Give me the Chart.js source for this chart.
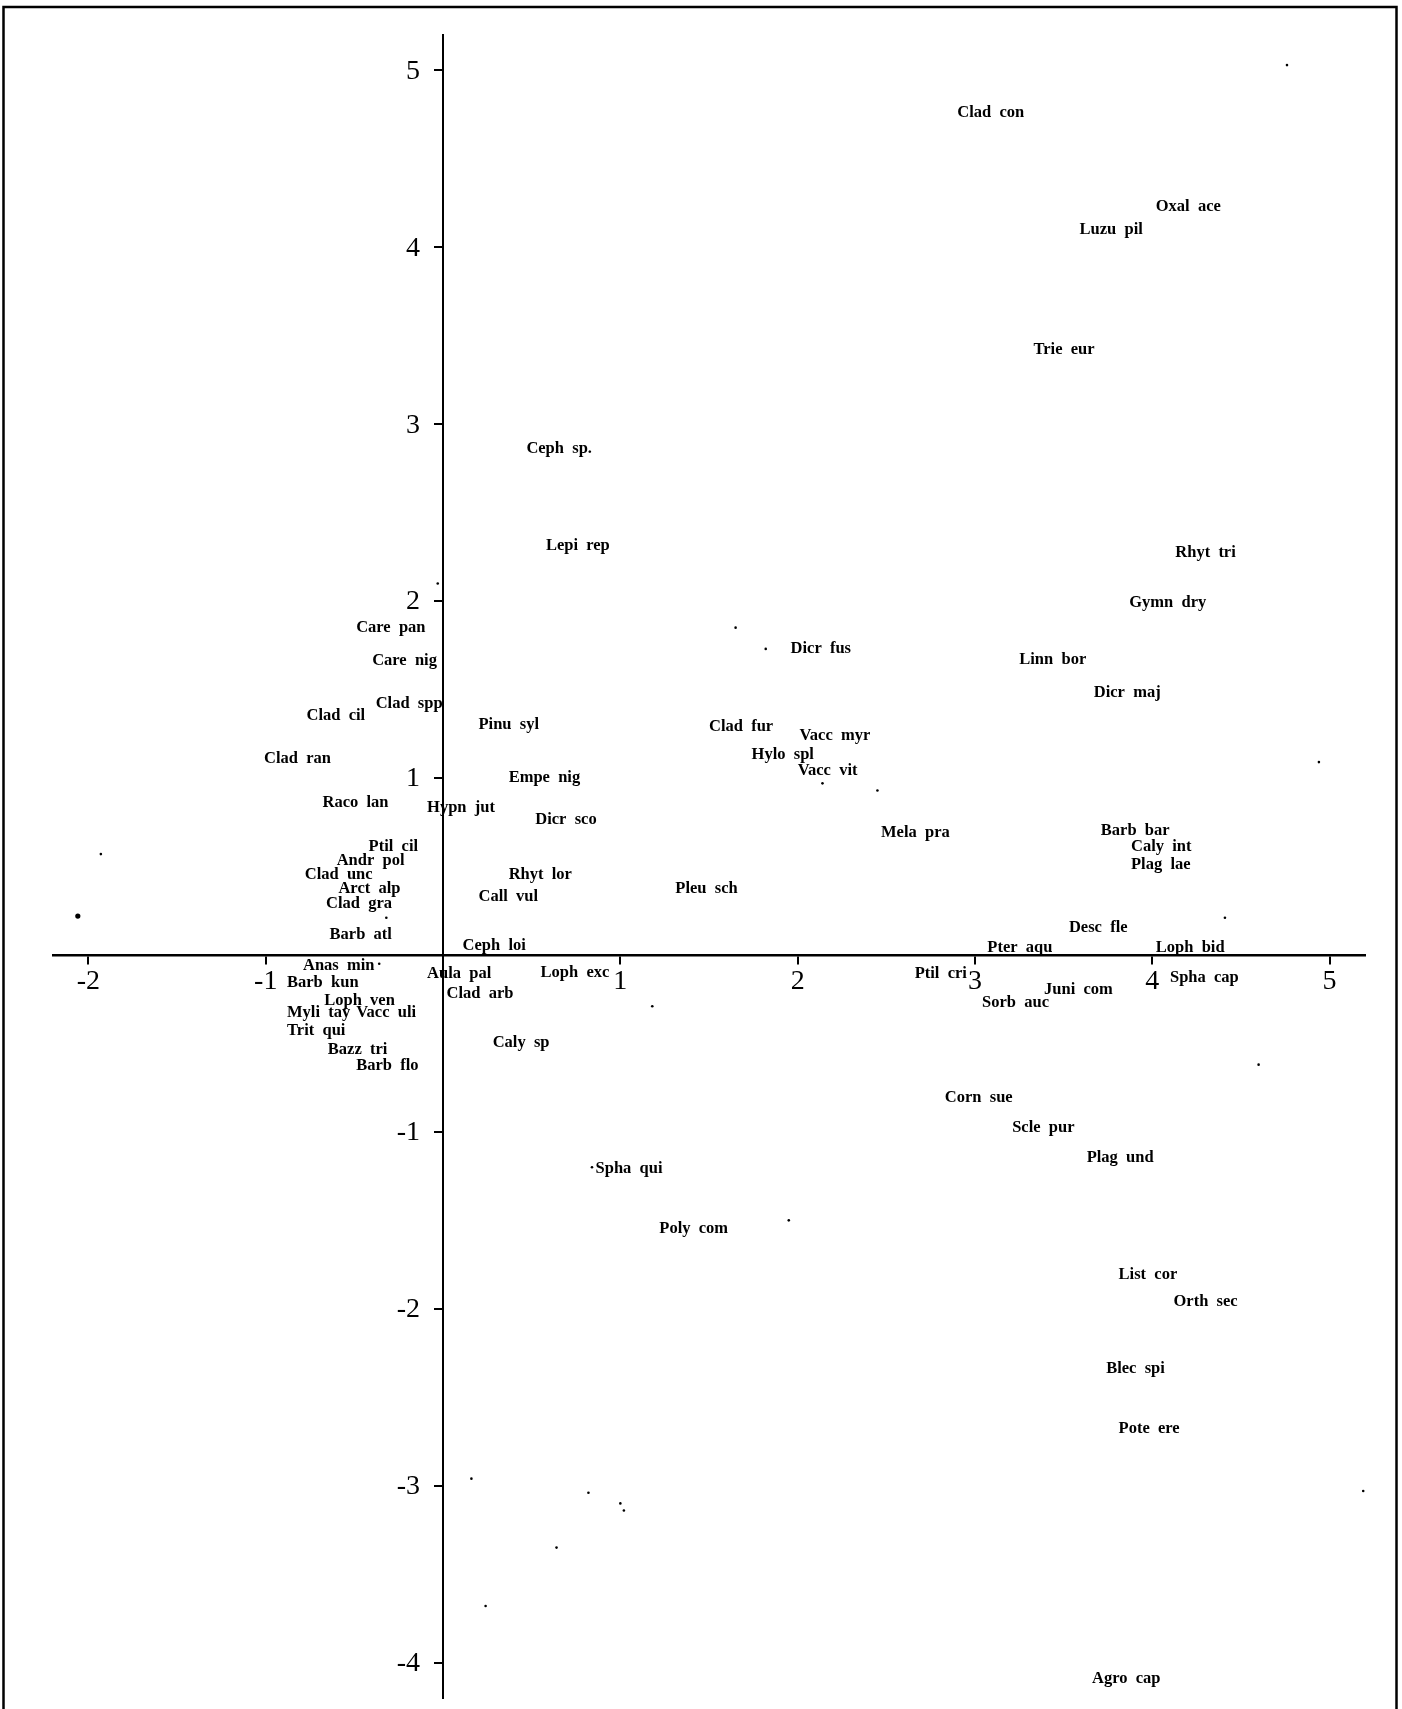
<!DOCTYPE html>
<html>
<head>
<meta charset="utf-8">
<title>Species ordination diagram</title>
<script src="https://cdn.jsdelivr.net/npm/chart.js@4/dist/chart.umd.min.js"></script>
<style>
  html, body { margin: 0; padding: 0; background: #fff; }
  canvas { display: block; }
</style>
</head>
<body>
<canvas id="ord" width="1402" height="1709"></canvas>
<script>
// Species scores on ordination axes 1 (x) and 2 (y)
const speciesNames = [
  'Clad con', 'Oxal ace', 'Luzu pil', 'Trie eur', 'Ceph sp.', 'Lepi rep', 'Rhyt tri', 'Gymn dry',
  'Care pan', 'Dicr fus', 'Linn bor', 'Care nig', 'Dicr maj', 'Clad spp', 'Clad cil', 'Pinu syl',
  'Clad fur', 'Vacc myr', 'Hylo spl', 'Clad ran', 'Vacc vit', 'Empe nig', 'Raco lan', 'Hypn jut',
  'Dicr sco', 'Mela pra', 'Barb bar', 'Ptil cil', 'Caly int', 'Andr pol', 'Plag lae', 'Rhyt lor',
  'Clad unc', 'Pleu sch', 'Arct alp', 'Call vul', 'Clad gra', 'Desc fle', 'Barb atl', 'Ceph loi',
  'Pter aqu', 'Loph bid', 'Anas min', 'Loph exc', 'Aula pal', 'Ptil cri', 'Barb kun', 'Spha cap',
  'Juni com', 'Clad arb', 'Loph ven', 'Sorb auc', 'Myli tay', 'Vacc uli', 'Trit qui', 'Caly sp',
  'Bazz tri', 'Barb flo', 'Corn sue', 'Scle pur', 'Plag und', 'Spha qui', 'Poly com', 'List cor',
  'Orth sec', 'Blec spi', 'Pote ere', 'Agro cap'
];
const speciesX = [
  2.90, 4.02, 3.59, 3.33, 0.47, 0.58, 4.13, 3.87,
  -0.49, 1.96, 3.25, -0.40, 3.67, -0.38, -0.77, 0.20,
  1.50, 2.01, 1.74, -1.01, 2.00, 0.37, -0.68, -0.09,
  0.52, 2.47, 3.71, -0.42, 3.88, -0.60, 3.88, 0.37,
  -0.78, 1.31, -0.59, 0.20, -0.66, 3.53, -0.64, 0.11,
  3.07, 4.02, -0.79, 0.55, -0.09, 2.66, -0.88, 4.10,
  3.39, 0.02, -0.67, 3.04, -0.88, -0.49, -0.88, 0.28,
  -0.65, -0.49, 2.83, 3.21, 3.63, 0.86, 1.22, 3.81,
  4.12, 3.74, 3.81, 3.66
];
const speciesY = [
  4.77, 4.24, 4.11, 3.43, 2.87, 2.32, 2.28, 2.00,
  1.86, 1.74, 1.68, 1.67, 1.49, 1.43, 1.36, 1.31,
  1.30, 1.25, 1.14, 1.12, 1.05, 1.01, 0.87, 0.84,
  0.77, 0.70, 0.71, 0.62, 0.62, 0.54, 0.52, 0.46,
  0.46, 0.38, 0.38, 0.34, 0.30, 0.16, 0.12, 0.06,
  0.05, 0.05, -0.05, -0.09, -0.10, -0.10, -0.15, -0.12,
  -0.19, -0.21, -0.25, -0.26, -0.32, -0.32, -0.42, -0.49,
  -0.53, -0.62, -0.80, -0.97, -1.14, -1.20, -1.54, -1.80,
  -1.95, -2.33, -2.67, -4.08
];

// Sample (site) scores, shown as small dots
const siteX = [4.76, 4.94, 4.41, 4.60, 5.19, -2.06, -1.93, 1.82, 1.65, 2.14, 2.45, -0.03,
               -0.32, -0.36, 0.84, 1.18, 1.95, 0.16, 0.82, 1.00, 1.02, 0.64, 0.24];
const siteY = [5.03, 1.09, 0.21, -0.62, -3.03, 0.22, 0.57, 1.73, 1.85, 0.97, 0.93, 2.10,
               0.21, -0.05, -1.20, -0.29, -1.50, -2.96, -3.04, -3.10, -3.14, -3.35, -3.68];

// Axis ticks
const xTickValues = [-2, -1, 1, 2, 3, 4, 5];
const xTickLabels = ['-2', '-1', '1', '2', '3', '4', '5'];
const yTickValues = [5, 4, 3, 2, 1, -1, -2, -3, -4];
const yTickLabels = ['5', '4', '3', '2', '1', '-1', '-2', '-3', '-4'];

const speciesPoints = speciesNames.map((n, i) => ({ x: speciesX[i], y: speciesY[i] }));
const sitePoints = siteX.map((v, i) => ({ x: v, y: siteY[i] }));

const SERIF = '"Liberation Serif", "Times New Roman", serif';

// Outer frame round the figure
const framePlugin = {
  id: 'frame',
  beforeDraw(chart) {
    const ctx = chart.ctx;
    ctx.save();
    ctx.fillStyle = '#fff';
    ctx.fillRect(0, 0, chart.width, chart.height);
    ctx.strokeStyle = '#000';
    ctx.lineWidth = 2.5;
    ctx.strokeRect(3.5, 7, 1393, 1800);
    ctx.restore();
  }
};

// Tick numbers beside the crossing axes
const tickTextPlugin = {
  id: 'tickText',
  afterDraw(chart) {
    const { x: xs, y: ys } = chart.scales;
    const ctx = chart.ctx;
    const x0 = xs.getPixelForValue(0);
    const y0 = ys.getPixelForValue(0);
    ctx.save();
    ctx.fillStyle = '#000';
    ctx.font = '28px ' + SERIF;
    ctx.textAlign = 'center';
    ctx.textBaseline = 'top';
    xTickValues.forEach((v, i) => {
      ctx.fillText(xTickLabels[i], xs.getPixelForValue(v), y0 + 13);
    });
    ctx.textAlign = 'right';
    ctx.textBaseline = 'middle';
    yTickValues.forEach((v, i) => {
      ctx.fillText(yTickLabels[i], x0 - 23, ys.getPixelForValue(v) + 1);
    });
    ctx.restore();
  }
};

// Species abbreviations written at their scores
const speciesLabelPlugin = {
  id: 'speciesLabels',
  afterDatasetsDraw(chart) {
    const meta = chart.getDatasetMeta(0);
    const ctx = chart.ctx;
    ctx.save();
    ctx.fillStyle = '#000';
    ctx.font = 'bold 16.5px ' + SERIF;
    ctx.textAlign = 'left';
    ctx.textBaseline = 'middle';
    meta.data.forEach((pt, i) => {
      ctx.fillText(speciesNames[i].replace(' ', '  '), pt.x, pt.y + 1.5);
    });
    ctx.restore();
  }
};

function zeroPadding(scale) {
  scale.paddingLeft = 0;
  scale.paddingRight = 0;
  scale.paddingTop = 0;
  scale.paddingBottom = 0;
}

new Chart(document.getElementById('ord'), {
  type: 'scatter',
  data: {
    datasets: [
      {
        label: 'Species',
        data: speciesPoints,
        pointRadius: 0,
        pointHoverRadius: 0,
        showLine: false
      },
      {
        label: 'Sites',
        data: sitePoints,
        pointRadius: ctx => (ctx.dataIndex === 5 ? 2.6 : 1.3),
        pointHoverRadius: 0,
        pointBorderWidth: 0,
        backgroundColor: '#000',
        borderColor: '#000',
        clip: false,
        showLine: false
      }
    ]
  },
  options: {
    responsive: false,
    animation: false,
    devicePixelRatio: 1,
    layout: { padding: { left: 53, top: 35, right: 37, bottom: 11 } },
    plugins: {
      legend: { display: false },
      tooltip: { enabled: false },
      title: { display: false }
    },
    events: [],
    scales: {
      x: {
        type: 'linear',
        min: -2.2,
        max: 5.2,
        position: { y: 0 },
        afterBuildTicks: s => { s.ticks = xTickValues.map(v => ({ value: v })); },
        afterFit: zeroPadding,
        border: { display: true, color: '#000', width: 2.5 },
        grid: { drawOnChartArea: false, drawTicks: true, tickLength: 8, color: '#000', lineWidth: 2, tickWidth: 2 },
        ticks: { display: false }
      },
      y: {
        type: 'linear',
        min: -4.2,
        max: 5.2,
        position: { x: 0 },
        afterBuildTicks: s => { s.ticks = yTickValues.map(v => ({ value: v })); },
        afterFit: zeroPadding,
        border: { display: true, color: '#000', width: 2 },
        grid: { drawOnChartArea: false, drawTicks: true, tickLength: 8, color: '#000', lineWidth: 2, tickWidth: 2 },
        ticks: { display: false }
      }
    }
  },
  plugins: [framePlugin, speciesLabelPlugin, tickTextPlugin]
});
</script>
</body>
</html>
